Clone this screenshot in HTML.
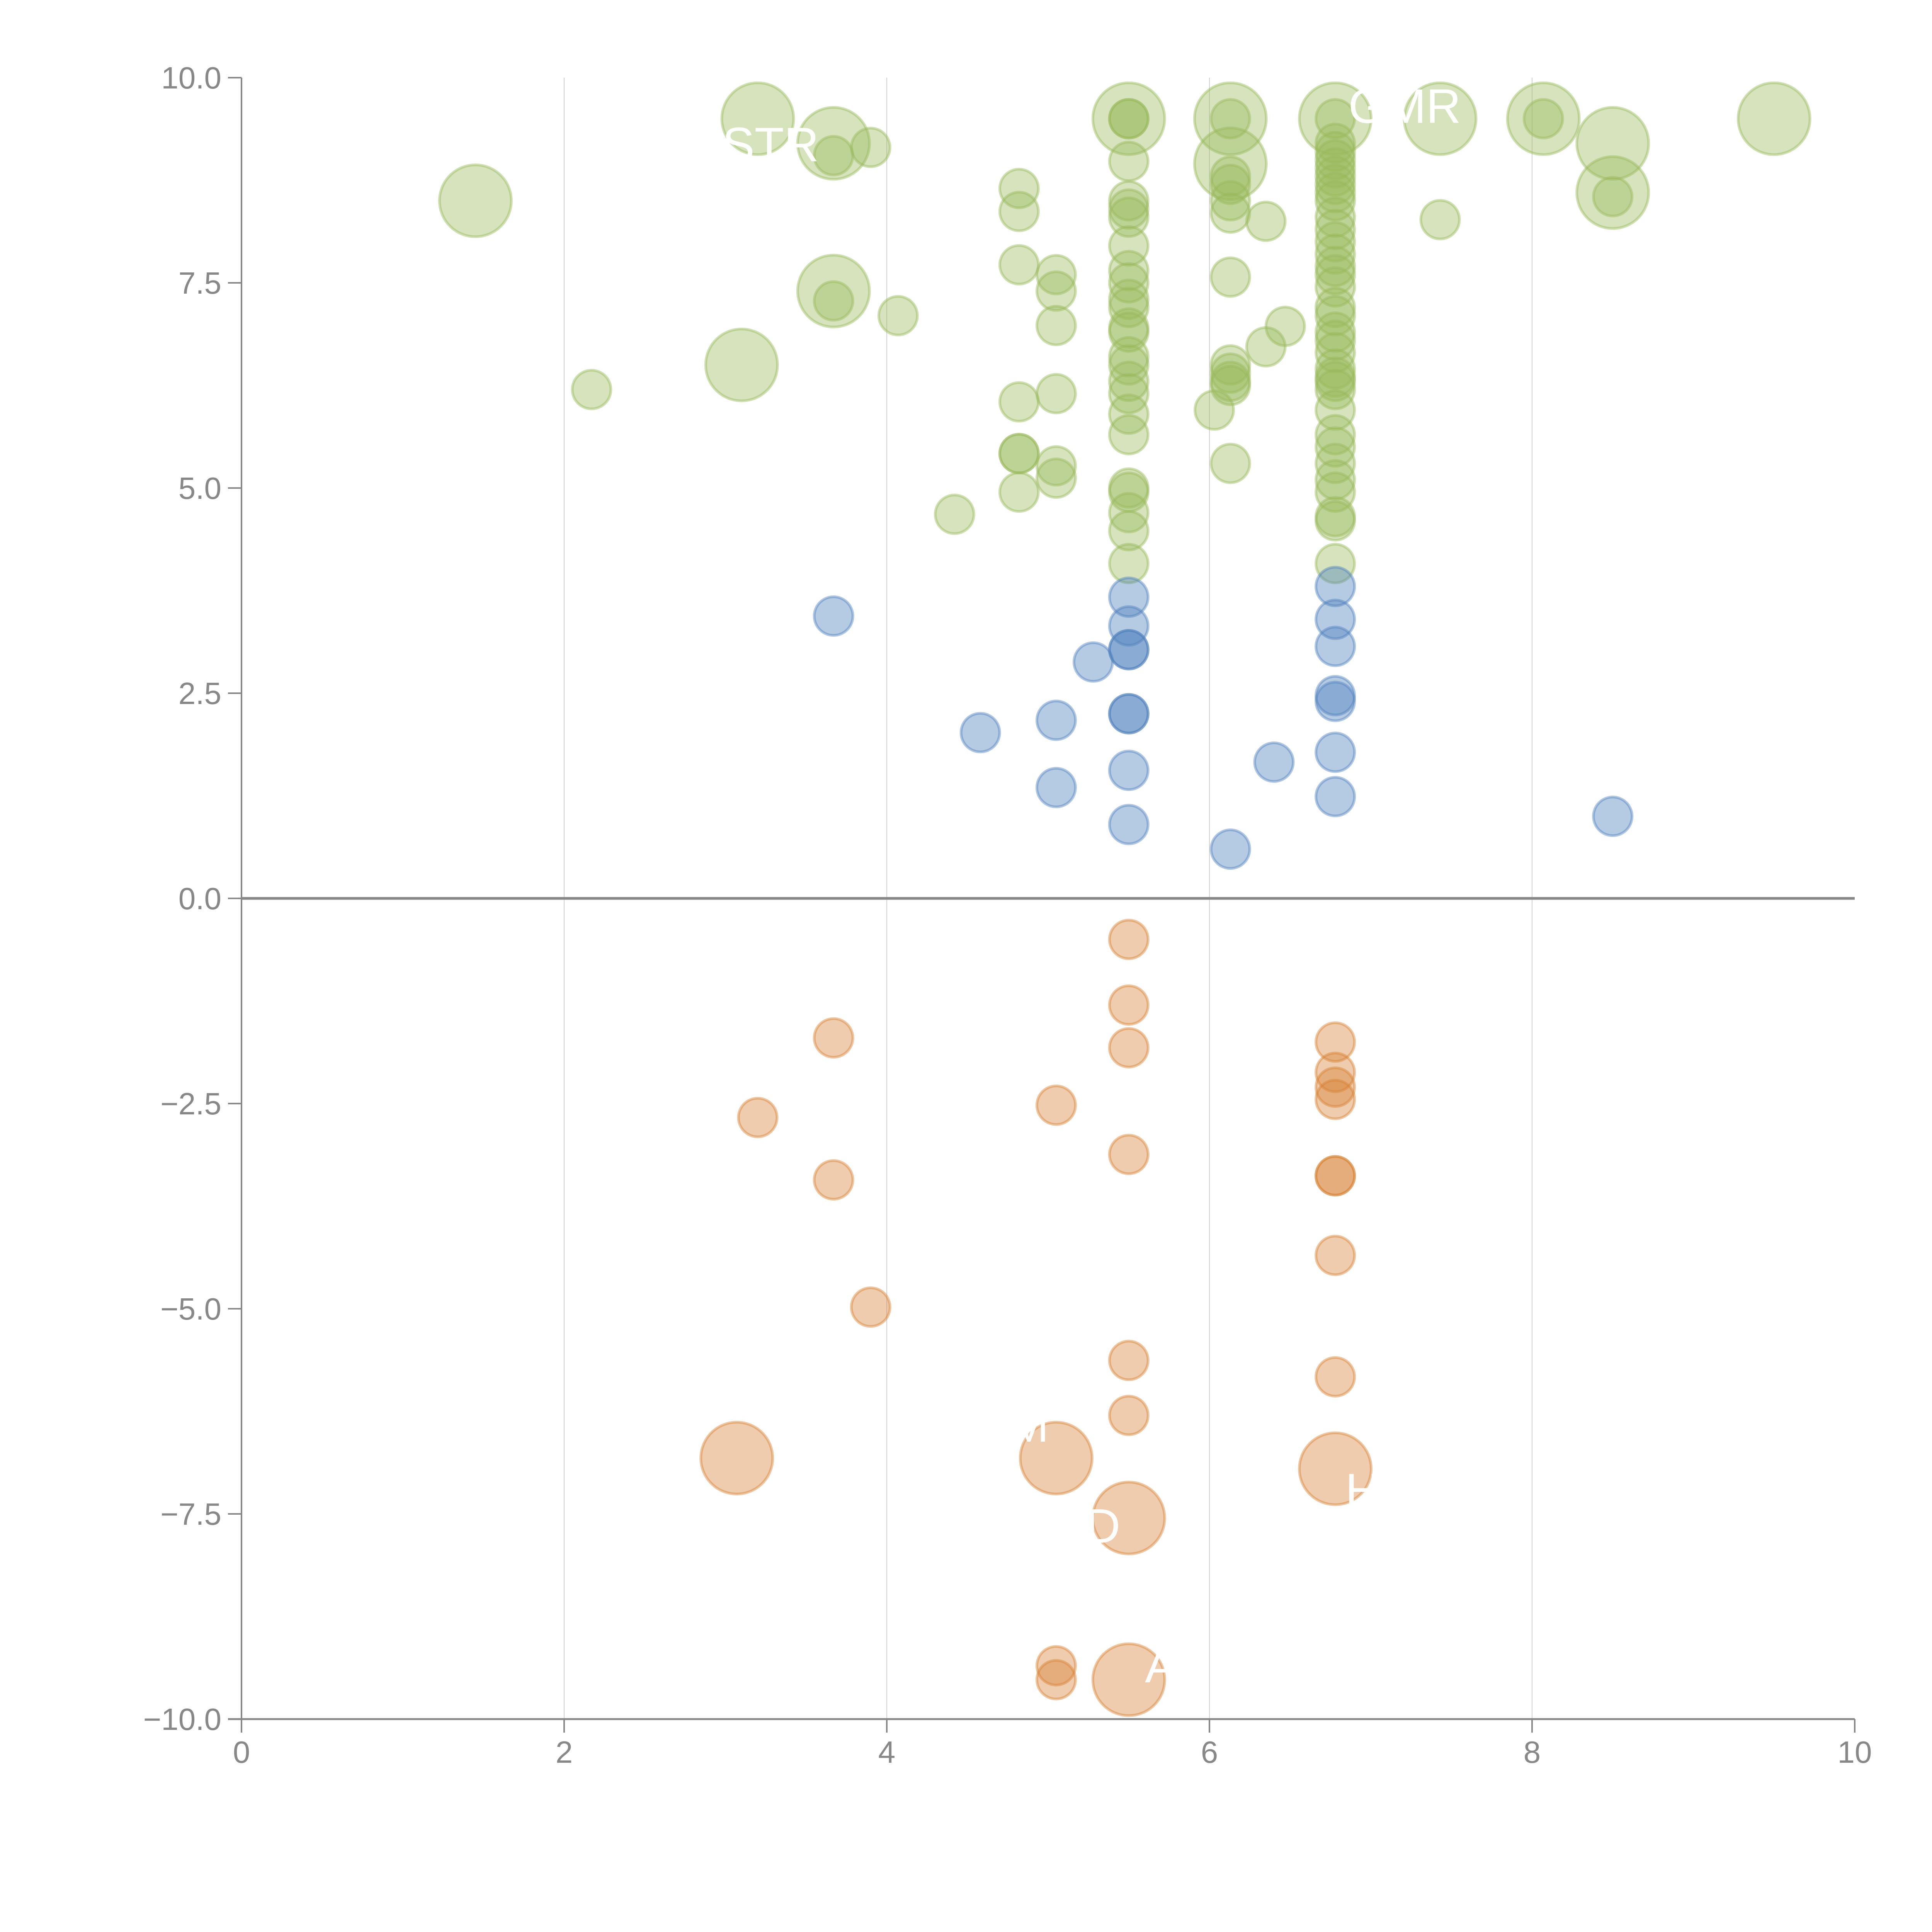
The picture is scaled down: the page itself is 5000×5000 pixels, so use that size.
<!DOCTYPE html>
<html><head><meta charset="utf-8"><style>
html,body{margin:0;padding:0;background:#fff;}
svg{display:block;}
text{font-family:"Liberation Sans",Arial,sans-serif;}
</style></head><body>
<svg id="chart" width="5000" height="5000" viewBox="0 0 5000 5000" xmlns="http://www.w3.org/2000/svg">
<g id="grid"></g>
<g id="marks"></g>
<g id="labels"></g>
<g id="axes"></g>
</svg>
<script>
// ---- data ----
const greenX = [1.45,3.2,3.67,3.67,3.1,5.5,6.13,6.13,6.78,7.43,8.07,8.5,8.5,9.5,
 2.17,3.67,3.9,3.67,4.07,4.42,4.82,4.82,4.82,4.82,4.82,4.82,4.82,5.05,5.05,5.05,5.05,5.05,5.05,
 5.5,5.5,5.5,5.5,5.5,5.5,5.5,5.5,5.5,5.5,5.5,5.5,5.5,5.5,5.5,5.5,5.5,5.5,5.5,5.5,5.5,5.5,5.5,5.5,
 6.13,6.13,6.13,6.13,6.13,6.13,6.13,6.13,6.13,6.13,6.13,6.03,6.35,6.35,6.47,7.43,8.07,8.5,
 6.78,6.78,6.78,6.78,6.78,6.78,6.78,6.78,6.78,6.78,6.78,6.78,6.78,6.78,6.78,6.78,6.78,6.78,6.78,6.78,6.78,6.78,6.78,6.78,6.78,6.78,6.78,6.78,6.78,6.78,6.78,6.78,6.78,6.78];
const greenY = [8.5,9.5,9.2,7.4,6.5,9.5,9.5,8.95,9.5,9.5,9.5,9.2,8.6,9.5,
 6.2,9.05,9.15,7.28,7.1,4.68,8.65,8.37,7.72,6.05,5.42,5.42,4.95,7.6,7.4,6.98,6.15,5.27,5.12,
 9.5,9.5,8.98,8.5,8.4,8.3,7.95,7.65,7.5,7.3,7.2,6.95,6.9,6.6,6.5,6.3,6.15,5.9,5.65,5.0,4.95,4.7,4.48,4.08,
 9.5,8.8,8.7,8.5,8.35,7.57,6.5,6.4,6.3,6.25,5.3,5.95,8.25,6.72,6.97,8.27,9.5,8.55,
 9.5,9.2,9.1,9.0,8.9,8.8,8.7,8.6,8.5,8.3,8.15,8.0,7.85,7.7,7.6,7.45,7.2,7.1,6.9,6.8,6.65,6.45,6.35,6.3,6.2,5.95,5.65,5.5,5.3,5.1,4.95,4.65,4.6,4.08];
const greenBig = 14; // first N green points are large bubbles
const blueX = [3.67,4.58,5.05,5.05,5.28,5.5,5.5,5.5,5.5,5.5,5.5,5.5,5.5,6.13,6.4,6.78,6.78,6.78,6.78,6.78,6.78,6.78,8.5];
const blueY = [3.44,2.02,2.17,1.35,2.88,3.67,3.32,3.03,3.03,2.25,2.25,1.56,0.9,0.6,1.66,3.8,3.4,3.07,2.47,2.4,1.78,1.24,1.0];
const orangeX = [3.07,5.05,5.5,6.78,5.5,
 3.2,3.67,3.67,3.9,5.05,5.05,5.05,5.5,5.5,5.5,5.5,5.5,5.5,6.78,6.78,6.78,6.78,6.78,6.78,6.78,6.78];
const orangeY = [-6.82,-6.82,-7.55,-6.95,-9.52,
 -2.67,-1.7,-3.43,-4.98,-2.52,-9.35,-9.52,-0.5,-1.3,-1.82,-3.12,-5.63,-6.3,-1.75,-2.12,-2.3,-2.45,-3.38,-3.38,-4.35,-5.83];
const orangeBig = 5;
const labelText = ["STR","GMR","M","D","H","A"];
const labelX = [3.28,7.21,4.88,5.34,6.95,5.7];
const labelY = [8.98,9.45,-6.62,-7.85,-7.42,-9.55];
const xTicks = [0,2,4,6,8,10];
const yTicks = [-10,-7.5,-5,-2.5,0,2.5,5,7.5,10];
const yTickLabels = ["\u221210.0","\u22127.5","\u22125.0","\u22122.5","0.0","2.5","5.0","7.5","10.0"];

// ---- scales ----
const X0=625, X1=4800, Y0=4449, Y1=201;
const sx = v => X0 + (v-0)/(10-0)*(X1-X0);
const sy = v => Y0 - (v+10)/20*(Y0-Y1);
const NS="http://www.w3.org/2000/svg";
function mk(tag, attrs, parent){const e=document.createElementNS(NS,tag);for(const k in attrs)e.setAttribute(k,attrs[k]);parent.appendChild(e);return e;}

const grid=document.getElementById('grid'), marks=document.getElementById('marks'),
 labels=document.getElementById('labels'), axes=document.getElementById('axes');

xTicks.forEach(t=>{ if(t>0&&t<10){
 const g=mk('line',{x1:sx(t),x2:sx(t),y1:Y1,y2:Y0,stroke:'#d0d0d0','stroke-width':2},grid);
 
 
}});

function drawSeries(xs,ys,nBig,fill,stroke,name){
 xs.forEach((x,i)=>{
  const r = i<nBig?93:50;
  const c=mk('circle',{cx:sx(x),cy:sy(ys[i]),r:r,fill:fill,stroke:stroke,'stroke-width':7},marks);
  
  
 });
}
drawSeries(greenX,greenY,greenBig,'rgba(152,185,90,0.4)','rgba(152,185,90,0.45)','bubble-positive');
drawSeries(blueX,blueY,0,'rgba(79,129,189,0.42)','rgba(79,129,189,0.45)','bubble-neutral');
drawSeries(orangeX,orangeY,orangeBig,'rgba(216,128,50,0.4)','rgba(216,128,50,0.45)','bubble-negative');

labelText.forEach((s,i)=>{
 const t=mk('text',{x:sx(labelX[i]),y:sy(labelY[i]),fill:'#fff','font-size':125,'text-anchor':'middle'},labels);
 t.textContent=s;
 
 
});

// axes
const ya=mk('line',{x1:X0,x2:X0,y1:Y1,y2:Y0,stroke:'#888','stroke-width':4},axes);


const xa=mk('line',{x1:X0-35,x2:X1,y1:Y0,y2:Y0,stroke:'#888','stroke-width':5},axes);


const zl=mk('line',{x1:X0,x2:X1,y1:sy(0),y2:sy(0),stroke:'#888','stroke-width':7},axes);



yTicks.forEach((t,i)=>{
 const l=mk('line',{x1:X0-35,x2:X0,y1:sy(t),y2:sy(t),stroke:'#888','stroke-width':4},axes);
 
 
 const tx=mk('text',{x:X0-52,y:sy(t)+28,fill:'#888','font-size':80,'text-anchor':'end'},axes);
 tx.textContent=yTickLabels[i];
 
 
});
xTicks.forEach(t=>{
 const l=mk('line',{x1:sx(t),x2:sx(t),y1:Y0,y2:Y0+35,stroke:'#888','stroke-width':4},axes);
 
 
 const tx=mk('text',{x:sx(t),y:Y0+113,fill:'#888','font-size':80,'text-anchor':'middle'},axes);
 tx.textContent=String(t);
 
 
});
</script>
</body></html>
